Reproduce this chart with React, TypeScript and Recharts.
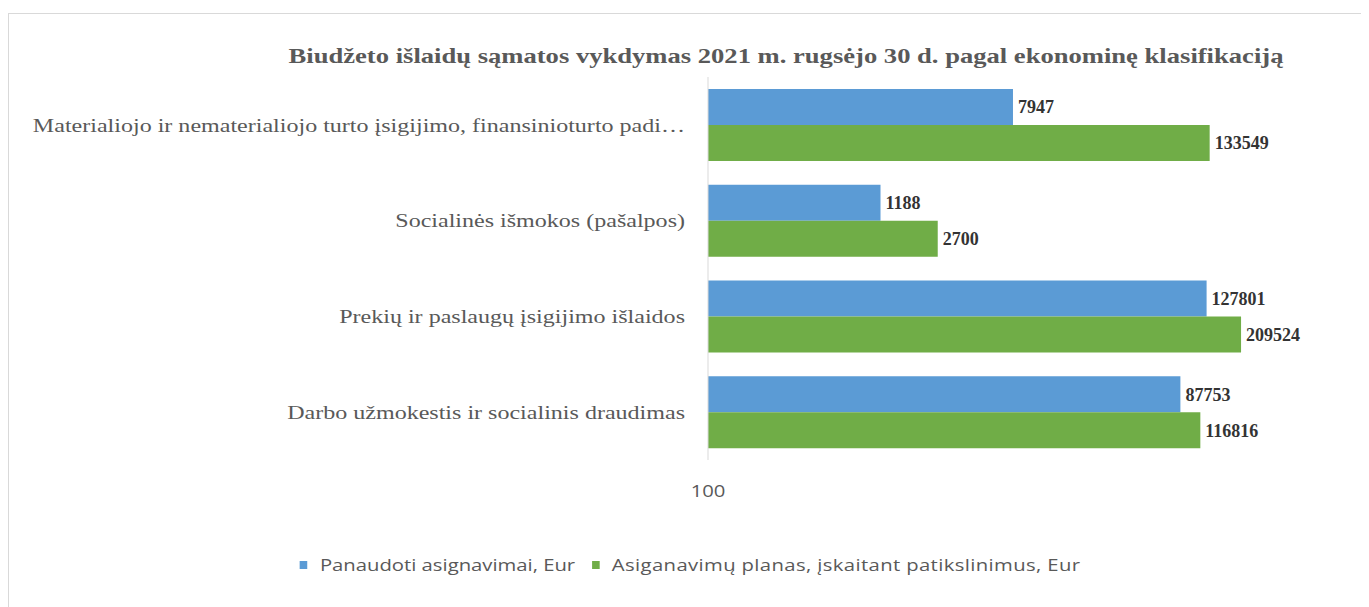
import React from "react"
import { BarChart, Bar, XAxis, YAxis, LabelList } from "recharts"

const categories = [
  "Materialiojo ir nematerialiojo turto įsigijimo, finansinioturto padi…",
  "Socialinės išmokos (pašalpos)",
  "Prekių ir paslaugų įsigijimo išlaidos",
  "Darbo užmokestis ir socialinis draudimas",
]
const panaudoti = [7947, 1188, 127801, 87753]
const planas = [133549, 2700, 209524, 116816]
const xTicks = [100]

const series = [
  { key: "panaudoti", name: "Panaudoti asignavimai, Eur", color: "#5b9bd5" },
  { key: "planas", name: "Asiganavimų planas, įskaitant patikslinimus, Eur", color: "#70ad47" },
]

const data = categories.map((name, i) => ({
  name,
  panaudoti: panaudoti[i],
  planas: planas[i],
}))

const TITLE = "Biudžeto išlaidų sąmatos vykdymas 2021 m. rugsėjo 30 d. pagal ekonominę klasifikaciją"
const serif = "'Liberation Serif', 'Times New Roman', serif"
const sans = "'Open Sans', 'Noto Sans', sans-serif"
const STRETCH = 1.266

const CategoryTick = (props: any) => {
  const { x, y, payload } = props
  return (
    <g transform={`translate(${x},${y})`}>
      <text
        transform={`scale(${STRETCH},1)`}
        textAnchor="end"
        dy="0.35em"
        fill="#595959"
        fontSize={19}
        fontFamily={serif}
      >
        {payload.value}
      </text>
    </g>
  )
}

const ValueTick = (props: any) => {
  const { x, y, payload } = props
  return (
    <g transform={`translate(${x},${y})`}>
      <text
        transform={`scale(${STRETCH},1)`}
        textAnchor="middle"
        dy="0.71em"
        fill="#595959"
        fontSize={16}
        fontFamily={sans}
      >
        {payload.value}
      </text>
    </g>
  )
}

const labelStyle = { fill: "#333333", fontSize: 18, fontWeight: "bold", fontFamily: serif }

const App = () => {
  return (
    <div style={{ paddingTop: 5 }}>
      <div
        style={{
          width: 1357,
          height: 600,
          border: "1px solid #d9d9d9",
          position: "relative",
          background: "#fff",
        }}
      >
        <div
          style={{
            position: "absolute",
            top: 30,
            left: 776.5,
            whiteSpace: "nowrap",
            transform: `translateX(-50%) scaleX(${STRETCH})`,
            fontFamily: serif,
            fontWeight: "bold",
            fontSize: 21,
            color: "#595959",
          }}
        >
          {TITLE}
        </div>
        <BarChart
          width={1357}
          height={600}
          data={data}
          layout="vertical"
          barCategoryGap="12.5%"
          barGap={0}
          margin={{ top: 63, right: 16, left: 0, bottom: 124 }}
        >
          <XAxis
            type="number"
            scale="log"
            domain={[100, 1000000]}
            ticks={xTicks}
            axisLine={false}
            tickLine={false}
            tickMargin={20}
            tick={<ValueTick />}
            allowDataOverflow
          />
          <YAxis
            type="category"
            dataKey="name"
            width={699}
            axisLine={{ stroke: "#d9d9d9" }}
            tickLine={false}
            tickMargin={17}
            tick={<CategoryTick />}
          />
          {series.map((s) => (
            <Bar key={s.key} dataKey={s.key} name={s.name} fill={s.color} isAnimationActive={false}>
              <LabelList dataKey={s.key} position="right" offset={5} style={labelStyle} />
            </Bar>
          ))}
        </BarChart>
        <div
          style={{
            position: "absolute",
            top: 540,
            left: 681,
            whiteSpace: "nowrap",
            transform: `translateX(-50%) scaleX(${STRETCH})`,
            fontFamily: sans,
            fontSize: 16,
            color: "#595959",
            display: "flex",
            alignItems: "center",
          }}
        >
          {series.map((s, i) => (
            <span key={s.key} style={{ display: "flex", alignItems: "center", marginLeft: i ? 13 : 0 }}>
              <span style={{ width: 6, height: 8, background: s.color, display: "inline-block", marginRight: 10 }} />
              <span style={{ letterSpacing: i ? 0.3 : 0 }}>{s.name}</span>
            </span>
          ))}
        </div>
      </div>
    </div>
  )
}

export default App
